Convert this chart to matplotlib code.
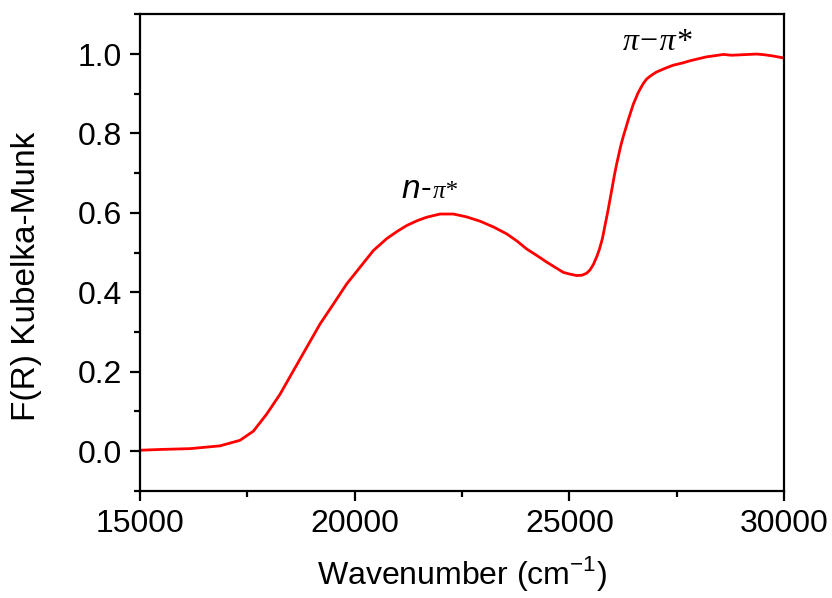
import matplotlib
matplotlib.use("Agg")
import matplotlib.pyplot as plt
from matplotlib.ticker import MultipleLocator

wavenumber = [15000, 15500, 16165, 16863, 17329, 17640, 17950, 18261, 18571, 18882,
              19193, 19503, 19814, 20125, 20435, 20746, 21000, 21212, 21450, 21678,
              21988, 22298, 22600, 22920, 23240, 23541, 23780, 24006, 24250, 24472,
              24680, 24860, 25000, 25171, 25300, 25404, 25480, 25560, 25640, 25700,
              25770, 25830, 25890, 25950, 26000, 26050, 26100, 26150, 26200, 26258,
              26320, 26380, 26440, 26491, 26550, 26600, 26660, 26724, 26800, 26880,
              26960, 27035, 27230, 27422, 27620, 27811, 28000, 28199, 28400, 28587,
              28780, 28975, 29170, 29363, 29560, 29751, 29850, 30000]
fr = [0.002, 0.004, 0.006, 0.013, 0.027, 0.050, 0.093, 0.143, 0.202, 0.261,
      0.320, 0.370, 0.421, 0.463, 0.505, 0.535, 0.554, 0.568, 0.580, 0.589,
      0.597, 0.597, 0.590, 0.579, 0.564, 0.547, 0.529, 0.509, 0.492, 0.476,
      0.462, 0.450, 0.446, 0.442, 0.443, 0.448, 0.456, 0.470, 0.490, 0.508,
      0.535, 0.568, 0.600, 0.635, 0.665, 0.695, 0.722, 0.746, 0.770, 0.793,
      0.815, 0.837, 0.857, 0.874, 0.889, 0.902, 0.914, 0.926, 0.937, 0.944,
      0.950, 0.955, 0.964, 0.972, 0.977, 0.983, 0.988, 0.993, 0.996, 0.999,
      0.997, 0.998, 0.999, 1.000, 0.998, 0.995, 0.993, 0.990]

plt.rcParams['font.family'] = ['Liberation Sans', 'DejaVu Sans']

fig = plt.figure(figsize=(8.32, 5.98), dpi=100)
ax = fig.add_axes([0.1683, 0.1794, 0.774, 0.7966])
ax.plot(wavenumber, fr, color='#ff0000', lw=2.0)

ax.set_xlim(15000, 30000)
ax.set_ylim(-0.1, 1.1)
ax.xaxis.set_major_locator(MultipleLocator(5000))
ax.xaxis.set_minor_locator(MultipleLocator(2500))
ax.yaxis.set_major_locator(MultipleLocator(0.2))
ax.yaxis.set_minor_locator(MultipleLocator(0.1))
ax.yaxis.set_major_formatter(matplotlib.ticker.FormatStrFormatter('%.1f'))
ax.tick_params(which='major', direction='out', length=7, width=1.6, labelsize=23, pad=6)
ax.tick_params(which='minor', direction='out', length=4, width=1.6)
for s in ax.spines.values():
    s.set_linewidth(1.6)

ax.set_xlabel('Wavenumber (cm$^{\\mathregular{-1}}$)', fontsize=23, labelpad=11)
ax.set_ylabel('F(R) Kubelka-Munk', fontsize=24)
ax.yaxis.set_label_coords(-0.152, 0.449)

ax.text(21530, 0.66, 'n', fontsize=24, style='italic', ha='right', va='center')
ax.text(21530, 0.66, '-', fontsize=23, ha='left', va='center')
ax.text(21810, 0.653, 'π*', fontsize=18, family='Liberation Serif', style='italic',
        ha='left', va='center')
ax.text(27050, 1.03, 'π−π*', fontsize=23, family='Liberation Serif', style='italic',
        ha='center', va='center')

fig.savefig('out.png', dpi=100)
